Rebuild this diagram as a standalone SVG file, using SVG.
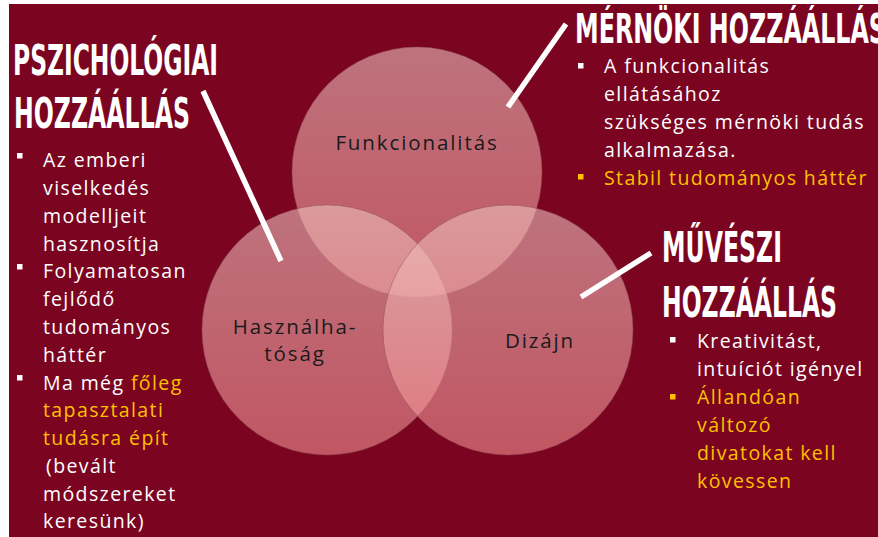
<svg xmlns="http://www.w3.org/2000/svg" width="878" height="537" viewBox="0 0 878 537">
<defs>
<linearGradient id="cg" x1="0" y1="0" x2="0" y2="1">
<stop offset="0" stop-color="#eec3c0"/>
<stop offset="1" stop-color="#f39192"/>
</linearGradient>
<style>
.circ{fill:url(#cg);fill-opacity:0.58;stroke:#8a4a55;stroke-opacity:0.45;stroke-width:1}
.ttl{font-family:"DejaVu Sans Condensed","DejaVu Sans",sans-serif;font-weight:bold;font-size:28px;fill:#ffffff}
.txt{font-family:"Open Sans","Noto Sans",sans-serif;font-size:19.5px;letter-spacing:1.4px;fill:#ffffff}
.y{fill:#ffc000}
.lbl{font-family:"Open Sans","Noto Sans",sans-serif;font-size:20.5px;letter-spacing:1.9px;fill:#1a1a1a;text-anchor:middle}
.bw{fill:#ffffff}
.by{fill:#ffc000}
.conn{stroke:#ffffff;stroke-width:5.5;stroke-linecap:butt;fill:none}
</style>
</defs>
<rect x="0" y="0" width="878" height="537" fill="#ffffff"/>
<rect x="9" y="4" width="869" height="533" fill="#7b0521"/>

<g id="venn">
<g id="node-funkcionalitas">
<circle class="circ" cx="417" cy="172" r="125"/>
</g>
<g id="node-hasznalhatosag">
<circle class="circ" cx="327" cy="330" r="125"/>
</g>
<g id="node-dizajn">
<circle class="circ" cx="508" cy="330" r="125"/>
</g>
<text class="lbl" x="417" y="150">Funkcionalitás</text>
<text class="lbl" x="295" y="334">Használha-</text>
<text class="lbl" x="295" y="361">tóság</text>
<text class="lbl" x="540" y="348">Dizájn</text>
</g>

<g id="connectors">
<line class="conn" x1="203" y1="91" x2="281" y2="261"/>
<line class="conn" x1="508" y1="107" x2="566" y2="24"/>
<line class="conn" x1="581" y1="297" x2="651" y2="253"/>
</g>

<g id="node-pszichologiai">
<text class="ttl" transform="translate(13,75) scale(1,1.5)" textLength="205" lengthAdjust="spacingAndGlyphs">PSZICHOLÓGIAI</text>
<text class="ttl" transform="translate(14,128) scale(1,1.5)" textLength="176" lengthAdjust="spacingAndGlyphs">HOZZÁÁLLÁS</text>
<rect class="bw" x="17" y="153" width="5.5" height="5.5"/>
<rect class="bw" x="17" y="264" width="5.5" height="5.5"/>
<rect class="bw" x="17" y="375" width="5.5" height="5.5"/>
<text class="txt" x="43" y="167">Az emberi</text>
<text class="txt" x="43" y="195">viselkedés</text>
<text class="txt" x="43" y="222.5">modelljeit</text>
<text class="txt" x="43" y="250.5">hasznosítja</text>
<text class="txt" x="43" y="278">Folyamatosan</text>
<text class="txt" x="43" y="306">fejlődő</text>
<text class="txt" x="43" y="334">tudományos</text>
<text class="txt" x="43" y="361.5">háttér</text>
<text class="txt" x="43" y="389.5">Ma még <tspan class="y">főleg</tspan></text>
<text class="txt y" x="43" y="417">tapasztalati</text>
<text class="txt y" x="43" y="445">tudásra épít</text>
<text class="txt" x="46" y="473">(bevált</text>
<text class="txt" x="43" y="500.5">módszereket</text>
<text class="txt" x="43" y="528">keresünk)</text>
</g>

<g id="node-mernoki">
<text class="ttl" transform="translate(575,43) scale(1,1.45)" textLength="311" lengthAdjust="spacingAndGlyphs">MÉRNÖKI HOZZÁÁLLÁS</text>
<rect class="bw" x="578" y="63" width="5.5" height="5.5"/>
<rect class="by" x="578" y="174" width="5.5" height="5.5"/>
<text class="txt" x="604" y="73">A funkcionalitás</text>
<text class="txt" x="604" y="101">ellátásához</text>
<text class="txt" x="604" y="129">szükséges mérnöki tudás</text>
<text class="txt" x="604" y="157">alkalmazása.</text>
<text class="txt y" x="604" y="185">Stabil tudományos háttér</text>
</g>

<g id="node-muveszi">
<text class="ttl" transform="translate(662,262) scale(1,1.5)" textLength="120" lengthAdjust="spacingAndGlyphs">MŰVÉSZI</text>
<text class="ttl" transform="translate(662,317) scale(1,1.5)" textLength="175" lengthAdjust="spacingAndGlyphs">HOZZÁÁLLÁS</text>
<rect class="bw" x="670" y="337" width="5.5" height="5.5"/>
<rect class="by" x="670" y="394" width="5.5" height="5.5"/>
<text class="txt" x="697" y="348">Kreativitást,</text>
<text class="txt" x="697" y="376">intuíciót igényel</text>
<text class="txt y" x="697" y="404">Állandóan</text>
<text class="txt y" x="697" y="432">változó</text>
<text class="txt y" x="697" y="460">divatokat kell</text>
<text class="txt y" x="697" y="488">kövessen</text>
</g>
</svg>
